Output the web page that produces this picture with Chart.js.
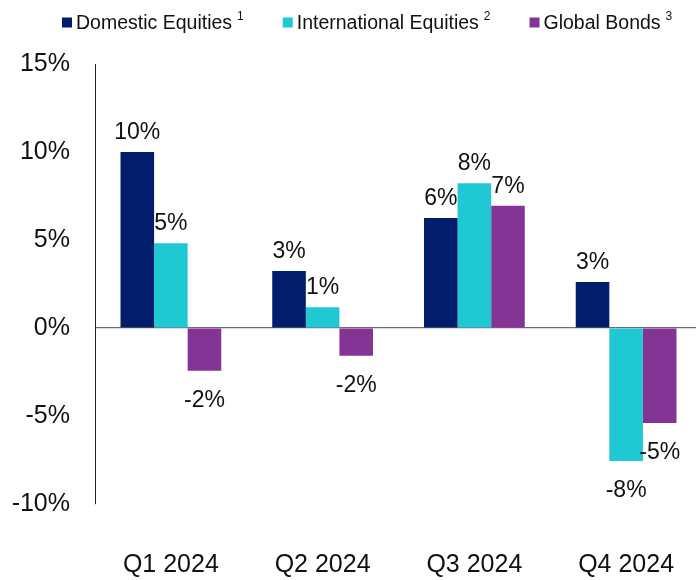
<!DOCTYPE html>
<html>
<head>
<meta charset="utf-8">
<script src="https://cdn.jsdelivr.net/npm/chart.js@4/dist/chart.umd.min.js"></script>
<style>
  html, body { margin: 0; padding: 0; background: #fff; overflow: hidden; width: 696px; height: 580px; }
  #returnsChart { position: absolute; left: 0; top: 0; }
</style>
</head>
<body>
<canvas id="returnsChart" width="704" height="580"></canvas>
<script>
// quarterly returns, in percent
var quarters = ['Q1 2024', 'Q2 2024', 'Q3 2024', 'Q4 2024'];
var seriesNames = ['Domestic Equities', 'International Equities', 'Global Bonds'];
var footnotes = ['1', '2', '3'];
var seriesColors = ['#021d6c', '#1ec9d3', '#843495'];

var domesticEquities = [10.0, 3.24, 6.25, 2.61];
var internationalEquities = [4.81, 1.18, 8.22, -7.55];
var globalBonds = [-2.43, -1.57, 6.95, -5.4];

var yTicks = [-10, -5, 0, 5, 10, 15];

var FONT = "'Liberation Sans', Arial, sans-serif";

// value labels above / below each bar
var barLabels = {
    id: 'barLabels',
    afterDatasetsDraw: function(chart) {
        var ctx = chart.ctx;
        ctx.save();
        ctx.font = '23px ' + FONT;
        ctx.fillStyle = '#111';
        ctx.textAlign = 'center';
        ctx.textBaseline = 'alphabetic';
        chart.data.datasets.forEach(function(ds, i) {
            var meta = chart.getDatasetMeta(i);
            meta.data.forEach(function(bar, j) {
                var v = ds.data[j];
                var txt = Math.round(v) + '%';
                var y = v >= 0 ? bar.y - 13 : bar.y + 36;
                ctx.fillText(txt, bar.x, y);
            });
        });
        ctx.restore();
    }
};

// legend drawn by hand so the footnote marks can be superscripts
var supLegend = {
    id: 'supLegend',
    afterDraw: function(chart) {
        var ctx = chart.ctx;
        var x = 62;
        ctx.save();
        ctx.textBaseline = 'alphabetic';
        ctx.textAlign = 'left';
        chart.data.datasets.forEach(function(ds, i) {
            ctx.fillStyle = ds.backgroundColor;
            ctx.fillRect(x, 17.5, 10, 10);
            x += 14;
            ctx.fillStyle = '#111';
            ctx.font = '19.5px ' + FONT;
            ctx.fillText(ds.label, x, 29);
            x += ctx.measureText(ds.label).width + 5;
            ctx.font = '12px ' + FONT;
            ctx.fillText(footnotes[i], x, 20);
            x += ctx.measureText(footnotes[i]).width + 39;
        });
        ctx.restore();
    }
};

var seriesData = [domesticEquities, internationalEquities, globalBonds];
var datasets = seriesNames.map(function(name, i) {
    return {
        label: name,
        data: seriesData[i],
        backgroundColor: seriesColors[i],
        borderWidth: 0,
        categoryPercentage: 0.664,
        barPercentage: 1.0
    };
});

var chart = new Chart(document.getElementById('returnsChart'), {
    type: 'bar',
    data: { labels: quarters, datasets: datasets },
    options: {
        responsive: false,
        animation: false,
        devicePixelRatio: 1,
        layout: { padding: { top: 64, left: 0, right: 2, bottom: 0 } },
        plugins: {
            legend: { display: false },
            tooltip: { enabled: false }
        },
        scales: {
            x: {
                // invisible tick marks push the labels down without widening the axis
                grid: { display: false, drawTicks: true, tickLength: 46 },
                border: { display: false },
                ticks: { font: { size: 25, family: FONT }, color: '#111', padding: 0 }
            },
            y: {
                min: yTicks[0],
                max: yTicks[yTicks.length - 1],
                afterBuildTicks: function(scale) {
                    scale.ticks = yTicks.map(function(v) { return { value: v }; });
                },
                afterFit: function(scale) { scale.width = 95; },
                grid: {
                    drawTicks: false,
                    color: function(c) { return c.tick && c.tick.value === 0 ? '#6e6e6e' : 'rgba(0,0,0,0)'; },
                    lineWidth: 1.2
                },
                border: { display: true, color: '#222', width: 1 },
                ticks: {
                    font: { size: 25, family: FONT },
                    color: '#111',
                    padding: 25,
                    callback: function(v) { return v + '%'; }
                }
            }
        }
    },
    plugins: [barLabels, supLegend]
});
</script>
</body>
</html>
